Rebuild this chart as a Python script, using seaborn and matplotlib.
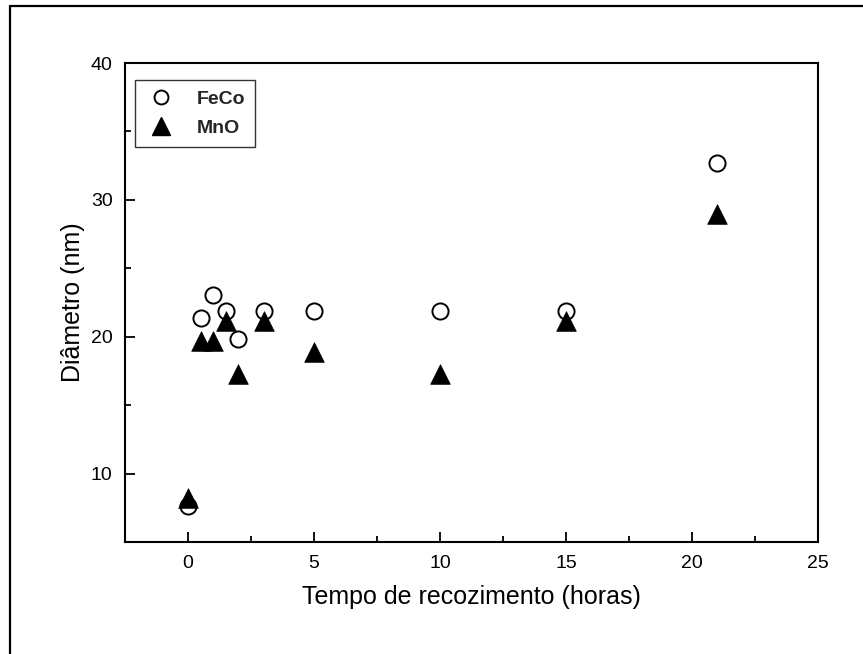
import matplotlib
matplotlib.use("Agg")
import matplotlib.pyplot as plt
from matplotlib.lines import Line2D
from matplotlib.ticker import MultipleLocator
import seaborn as sns
import pandas as pd

# Annealing time (hours) and particle diameter (nm)
feco_time = [0, 0.5, 1, 1.5, 2, 3, 5, 10, 15, 21]
feco_diam = [7.6, 21.35, 23.05, 21.9, 19.85, 21.9, 21.9, 21.9, 21.9, 32.7]
mno_time = [0, 0.5, 1, 1.5, 2, 3, 5, 10, 15, 21]
mno_diam = [8.25, 19.7, 19.7, 21.15, 17.3, 21.15, 18.85, 17.3, 21.15, 29.0]

x_label = "Tempo de recozimento (horas)"
y_label = "Diâmetro (nm)"

sns.set_theme(style="white")
plt.rcParams["font.family"] = ["Liberation Sans", "DejaVu Sans"]

fig = plt.figure(figsize=(8.63, 6.54), dpi=100)
ax = fig.add_axes([125 / 863, 1 - 542 / 654, (818 - 125) / 863, (542 - 63) / 654])

feco = pd.DataFrame({"t": feco_time, "d": feco_diam})
mno = pd.DataFrame({"t": mno_time, "d": mno_diam})

sns.scatterplot(data=feco, x="t", y="d", ax=ax, marker="o", s=135,
                facecolor="white", edgecolor="black", linewidth=1.4, zorder=3)
sns.scatterplot(data=mno, x="t", y="d", ax=ax, marker="^", s=200,
                color="black", edgecolor="black", linewidth=0.5, zorder=4)

ax.set_xlim(-2.5, 25)
ax.set_ylim(5, 40)
ax.xaxis.set_major_locator(MultipleLocator(5))
ax.xaxis.set_minor_locator(MultipleLocator(2.5))
ax.yaxis.set_major_locator(MultipleLocator(10))
ax.yaxis.set_minor_locator(MultipleLocator(5))
ax.set_yticks([10, 20, 30, 40])

for side in ["left", "bottom", "top", "right"]:
    ax.spines[side].set_visible(True)
    ax.spines[side].set_color("black")
    ax.spines[side].set_linewidth(1.5)

ax.tick_params(axis="both", which="major", direction="in", length=7, width=1.3,
               labelsize=14, color="black", labelcolor="black", pad=9)
ax.tick_params(axis="both", which="minor", direction="in", length=4, width=1.3,
               color="black")
ax.tick_params(top=False, right=False, left=True, bottom=True)
ax.tick_params(which="minor", top=False, right=False, left=True, bottom=True)

ax.set_xlabel(x_label, fontsize=18, color="black", labelpad=10)
ax.set_ylabel(y_label, fontsize=18, color="black", labelpad=4)

handles = [
    Line2D([], [], linestyle="none", marker="o", markersize=10,
           markerfacecolor="white", markeredgecolor="black", markeredgewidth=1.4),
    Line2D([], [], linestyle="none", marker="^", markersize=13,
           markerfacecolor="black", markeredgecolor="black"),
]
leg = ax.legend(handles, ["FeCo", "MnO"], loc="upper left",
                bbox_to_anchor=(10 / 693, 1 - 17 / 479),
                prop={"weight": "bold", "size": 14}, frameon=True,
                fancybox=False, edgecolor="black", handletextpad=1.0,
                borderpad=0.55, labelspacing=0.55, handlelength=1.6,
                borderaxespad=0)
leg.get_frame().set_linewidth(1.0)

# Outer frame lines along the top and left edges of the figure
fig.add_artist(Line2D([10 / 863, 10 / 863], [0, 1 - 5.5 / 654],
                      transform=fig.transFigure, color="black", linewidth=1.6))
fig.add_artist(Line2D([10 / 863, 1], [1 - 5.5 / 654, 1 - 5.5 / 654],
                      transform=fig.transFigure, color="black", linewidth=1.6))

fig.savefig("out.png", dpi=100)
